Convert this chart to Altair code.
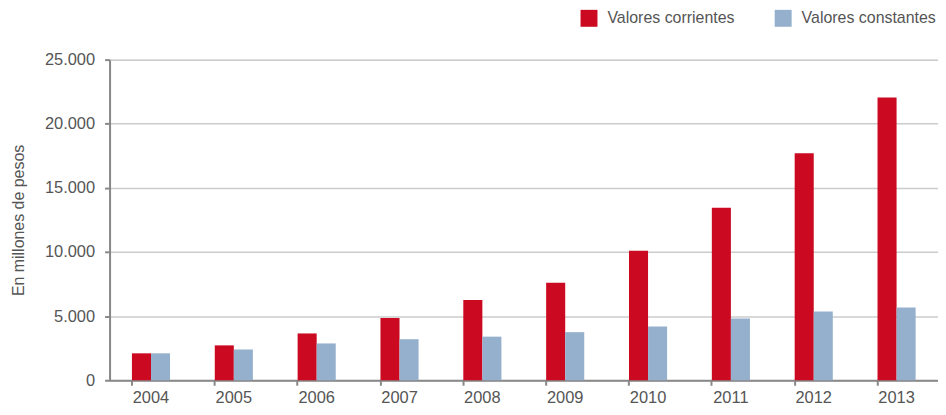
import altair as alt
import pandas as pd

years = ["2004", "2005", "2006", "2007", "2008", "2009", "2010", "2011", "2012", "2013"]
corrientes = [2100, 2720, 3650, 4850, 6250, 7600, 10100, 13450, 17700, 22050]
constantes = [2100, 2400, 2870, 3200, 3400, 3750, 4200, 4820, 5360, 5680]
series = ["Valores corrientes", "Valores constantes"]
colors = ["#CB0A21", "#94B0CD"]
y_ticks = [0, 5000, 10000, 15000, 20000, 25000]

rows = []
for i, y in enumerate(years):
    rows.append({"year": y, "serie": series[0], "value": corrientes[i]})
    rows.append({"year": y, "serie": series[1], "value": constantes[i]})
df = pd.DataFrame(rows)

FONT = "Liberation Sans"
TXT = "#555555"

chart = alt.Chart(df).mark_bar().encode(
    x=alt.X("year:N", sort=years, title=None,
            scale=alt.Scale(paddingInner=0.54, paddingOuter=0.27),
            axis=alt.Axis(labelAngle=0, bandPosition=0, tickSize=5, tickWidth=2,
                          tickColor="#888888", domainColor="#888888", domainWidth=2,
                          labelFontSize=16.5, labelColor=TXT, labelFont=FONT,
                          labelPadding=4, grid=False)),
    xOffset=alt.XOffset("serie:N", sort=series,
                        scale=alt.Scale(paddingInner=0, paddingOuter=0)),
    y=alt.Y("value:Q", title="En millones de pesos",
            scale=alt.Scale(domain=[0, 25000], nice=False),
            axis=alt.Axis(values=y_ticks, format=",.0f", tickSize=5, tickWidth=2,
                          tickColor="#888888", domainColor="#888888", domainWidth=2,
                          gridColor="#cccccc", gridWidth=1.5,
                          labelFontSize=16.5, labelColor=TXT, labelFont=FONT,
                          labelPadding=10, titleFont=FONT, titleFontSize=16,
                          titleColor=TXT, titleFontWeight="normal", titlePadding=18)),
    color=alt.Color("serie:N", sort=series,
                    scale=alt.Scale(domain=series, range=colors),
                    legend=alt.Legend(title=None, orient="none", direction="horizontal",
                                      legendX=473, legendY=-50, symbolType="square",
                                      symbolSize=289, symbolStrokeWidth=0,
                                      symbolOpacity=1, labelFont=FONT,
                                      labelFontSize=16, labelColor=TXT,
                                      labelOffset=10, columnPadding=40)),
).properties(
    width=832, height=322,
    autosize=alt.AutoSizeParams(type="none"),
    padding={"left": 102, "top": 51, "right": 0, "bottom": 26},
).configure_view(stroke=None).configure(
    locale={"number": {"decimal": ",", "thousands": ".", "grouping": [3],
                       "currency": ["$", ""]}}
)

chart.save("out.html", embed_options={"renderer": "svg", "actions": False})
